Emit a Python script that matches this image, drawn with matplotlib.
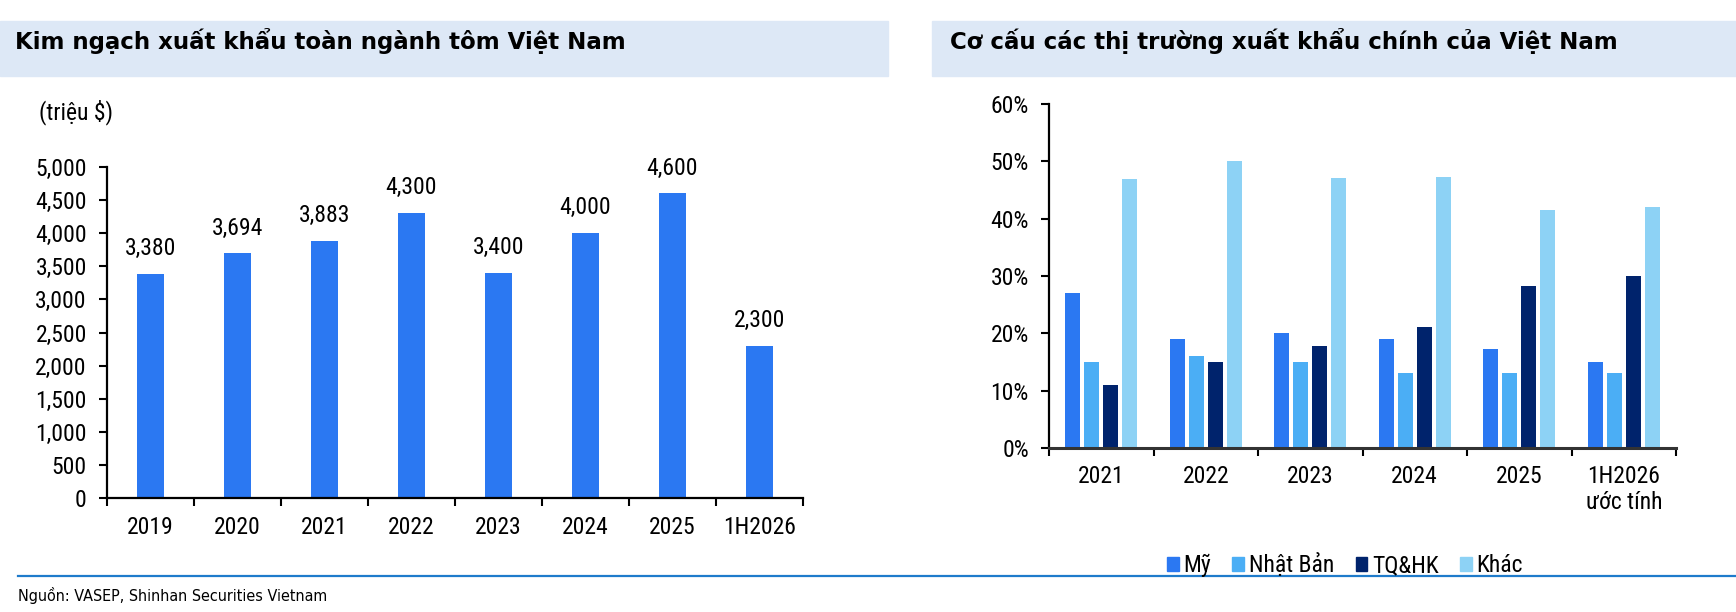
import matplotlib
matplotlib.use("Agg")
import matplotlib.pyplot as plt
from matplotlib.patches import Rectangle
from matplotlib.lines import Line2D
import numpy as np

# Kim ngạch xuất khẩu tôm (triệu $)
years = ['2019', '2020', '2021', '2022', '2023', '2024', '2025', '1H2026']
export_value = [3380, 3694, 3883, 4300, 3400, 4000, 4600, 2300]

# Cơ cấu thị trường (%)
periods = ['2021', '2022', '2023', '2024', '2025', '1H2026\nước tính']
markets = ['Mỹ', 'Nhật Bản', 'TQ&HK', 'Khác']
share_my = [27, 19, 20, 19, 17.2, 15]
share_nhat = [15, 16, 15, 13, 13, 13]
share_tq = [11, 15, 17.8, 21.1, 28.3, 30]
share_khac = [47, 50, 47.1, 47.2, 41.5, 42.1]

colors = ['#2B78F2', '#4BAEF5', '#00236C', '#8DD2F5']
plt.rcParams['font.family'] = ['Roboto Condensed', 'Liberation Sans', 'DejaVu Sans']

W, H = 1736, 612
fig = plt.figure(figsize=(W / 100, H / 100), dpi=100)

def fx(px):
    return px / W

def fy(py):
    return 1 - py / H

# header bands
fig.patches.append(Rectangle((0, fy(76)), fx(888), 55 / H, transform=fig.transFigure,
                             color='#DDE8F6', zorder=0))
fig.patches.append(Rectangle((fx(932), fy(76)), 1 - fx(932), 55 / H, transform=fig.transFigure,
                             color='#DDE8F6', zorder=0))
title_font = dict(fontsize=16.5, fontweight='bold', family=['DejaVu Sans'])
fig.text(fx(15), fy(41), 'Kim ngạch xuất khẩu toàn ngành tôm Việt Nam', va='center', **title_font)
fig.text(fx(950), fy(41), 'Cơ cấu các thị trường xuất khẩu chính của Việt Nam', va='center', **title_font)

FS = 17

# ---- left chart
ax1 = fig.add_axes([fx(107), fy(498), (803 - 107) / W, (498 - 167) / H])
x = np.arange(len(years))
ax1.bar(x, export_value, width=0.31, color=colors[0], zorder=2)
for xi, v in zip(x, export_value):
    ax1.annotate(f'{v:,}', (xi, v), xytext=(0, 10), textcoords='offset points',
                 ha='center', va='bottom', fontsize=FS)
ax1.set_xlim(-0.5, len(years) - 0.5)
ax1.set_ylim(0, 5000)
ax1.set_yticks(range(0, 5001, 500))
ax1.set_yticklabels([f'{t:,}' for t in range(0, 5001, 500)])
ax1.set_xticks(x)
ax1.set_xticklabels(years)
ax1.set_xticks(np.arange(-0.5, len(years)), minor=True)
ax1.tick_params(axis='x', which='major', length=0, pad=13, labelsize=FS)
ax1.tick_params(axis='x', which='minor', length=5.5, width=1.5, direction='out')
ax1.tick_params(axis='y', length=5.5, width=1.5, labelsize=FS, pad=9)
for s in ['top', 'right']:
    ax1.spines[s].set_visible(False)
for s in ['left', 'bottom']:
    ax1.spines[s].set_linewidth(1.6)
fig.text(fx(39), fy(112), '(triệu $)', va='center', fontsize=FS)

# ---- right chart
ax2 = fig.add_axes([fx(1049), fy(448), (1676 - 1049) / W, (448 - 104) / H])
x2 = np.arange(len(periods))
series = [share_my, share_nhat, share_tq, share_khac]
pitch = 0.182
for i, (vals, c, name) in enumerate(zip(series, colors, markets)):
    ax2.bar(x2 + (i - 1.5) * pitch, vals, width=0.144, color=c, label=name, zorder=2)
ax2.set_xlim(-0.5, len(periods) - 0.5)
ax2.set_ylim(0, 60)
ax2.set_yticks(range(0, 61, 10))
ax2.set_yticklabels([f'{t}%' for t in range(0, 61, 10)])
ax2.set_xticks(x2)
ax2.set_xticklabels(periods, linespacing=1.2)
ax2.set_xticks(np.arange(-0.5, len(periods)), minor=True)
ax2.tick_params(axis='x', which='major', length=0, pad=12, labelsize=FS)
ax2.tick_params(axis='x', which='minor', length=5.5, width=1.5, direction='out')
ax2.tick_params(axis='y', length=5.5, width=1.5, labelsize=FS, pad=9)
for s in ['top', 'right']:
    ax2.spines[s].set_visible(False)
ax2.spines['left'].set_linewidth(1.6)
ax2.spines['bottom'].set_linewidth(2.2)
ax2.spines['bottom'].set_color('#333333')

handles = [Rectangle((0, 0), 1, 1, color=c) for c in colors]
fig.legend(handles, markets, loc='center', bbox_to_anchor=(fx(1345), fy(565)), ncol=4,
           frameon=False, fontsize=FS, handlelength=0.5, handleheight=0.55,
           handletextpad=0.2, columnspacing=0.9, borderpad=0)

# source line
fig.add_artist(Line2D([fx(18), 1], [fy(576), fy(576)], transform=fig.transFigure,
                      color='#1E7BCB', linewidth=1.6))
fig.text(fx(18), fy(596), 'Nguồn: VASEP, Shinhan Securities Vietnam', va='center',
         fontsize=11.5, family=['DejaVu Sans'], fontstretch='condensed')

fig.savefig('out.png', dpi=100)
